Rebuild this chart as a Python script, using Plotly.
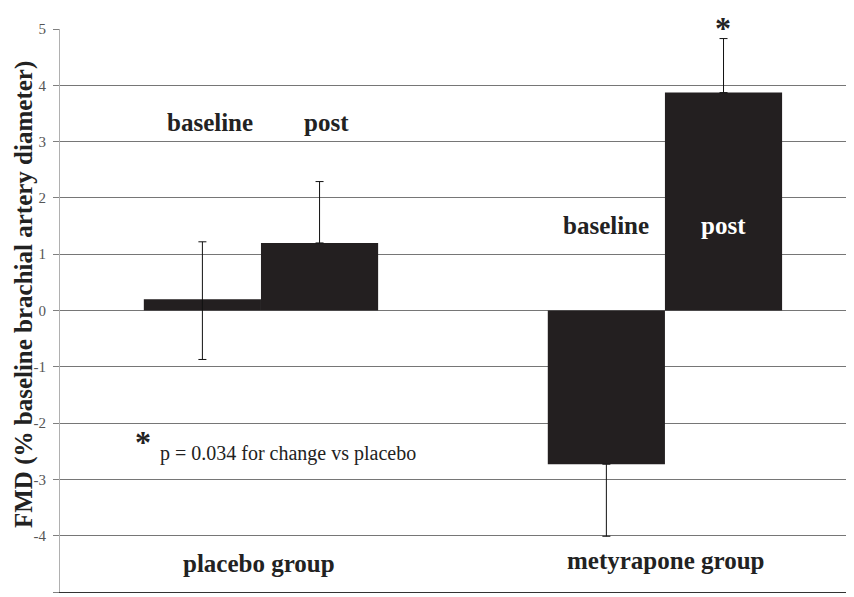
import plotly.graph_objects as go

groups = ["placebo group", "metyrapone group"]
baseline_vals = [0.2, -2.73]
post_vals = [1.2, 3.87]
baseline_err_plus = [1.02, 0.0]
baseline_err_minus = [1.07, 1.28]
post_err_plus = [1.09, 0.96]
post_err_minus = [0.0, 0.0]
y_ticks = [-5, -4, -3, -2, -1, 0, 1, 2, 3, 4, 5]
y_tick_text = ["-5", "-4", "-3", "-2", "-1", "0", "1", "2", "3", "4", "5"]

BAR = "#231f20"
FONT = "Liberation Serif"
OFF = 8  # default page body margin
W, H = 854 - OFF, 597 - OFF
ML, MR, MT, MB = 60 - OFF, 0, 29 - OFF, 5
PW = W - ML - MR
PH = H - MT - MB
PLOT_LEFT_PAGE = 60
PLOT_BOTTOM_PAGE = 592


def px(x):
    return (x - PLOT_LEFT_PAGE) / PW


def py(y):
    return (PLOT_BOTTOM_PAGE - y) / PH


fig = go.Figure()
fig.add_trace(go.Bar(
    x=groups, y=baseline_vals, name="baseline",
    marker=dict(color=BAR, line=dict(width=0)),
    error_y=dict(type="data", array=baseline_err_plus, arrayminus=baseline_err_minus,
                 symmetric=False, color="#111", thickness=1, width=4),
))
fig.add_trace(go.Bar(
    x=groups, y=post_vals, name="post",
    marker=dict(color=BAR, line=dict(width=0)),
    error_y=dict(type="data", array=post_err_plus, arrayminus=post_err_minus,
                 symmetric=False, color="#111", thickness=1, width=4),
))

ann = []
def txt(text, x, y, size=25, bold=True, color="#222", xanchor="center", yref="y", yanchor="middle"):
    ann.append(dict(text=(f"<b>{text}</b>" if bold else text), x=x, y=y, xref="paper", yref=yref,
                    showarrow=False, xanchor=xanchor, yanchor=yanchor,
                    font=dict(family=FONT, size=size, color=color)))

txt("baseline", px(210), 3.34)
txt("post", px(326), 3.34)
txt("baseline", px(606), 1.51)
txt("post", px(723), 1.51, color="white")
txt("*", px(723), py(8), size=32, yref="paper", yanchor="top")
txt("*", px(143), -2.34, size=32)
txt("p = 0.034 for change vs placebo", px(158), -2.54, size=20, bold=False, xanchor="left")
txt(groups[0], px(259), -4.49)
txt(groups[1], px(665), -4.44)

ann.append(dict(text="<b>FMD (% baseline brachial artery diameter)</b>", textangle=-90,
                x=(8 - PLOT_LEFT_PAGE) / PW, y=py(295), xref="paper", yref="paper",
                showarrow=False, xanchor="left", yanchor="middle",
                font=dict(family=FONT, size=25, color="#222")))

fig.update_layout(
    width=W, height=H,
    margin=dict(l=ML, r=MR, t=MT, b=MB),
    paper_bgcolor="white", plot_bgcolor="white",
    barmode="group", bargap=0.42, bargroupgap=0,
    showlegend=False,
    annotations=ann,
    font=dict(family=FONT),
)
fig.update_xaxes(range=[-0.4975, 1.468], showticklabels=False, showgrid=False,
                 showline=True, linecolor="#333", linewidth=1, mirror=False, zeroline=False)
fig.update_yaxes(range=[-5, 5], tickvals=y_ticks, ticktext=y_tick_text,
                 showgrid=True, gridcolor="#767676", gridwidth=1,
                 zeroline=True, zerolinecolor="#767676", zerolinewidth=1,
                 showline=True, linecolor="#b0b0b0", linewidth=1,
                 ticks="outside", ticklen=6, tickcolor="#808080", ticklabelstandoff=4,
                 tickfont=dict(family=FONT, size=15, color="#555"))

fig.write_html("out.html")
